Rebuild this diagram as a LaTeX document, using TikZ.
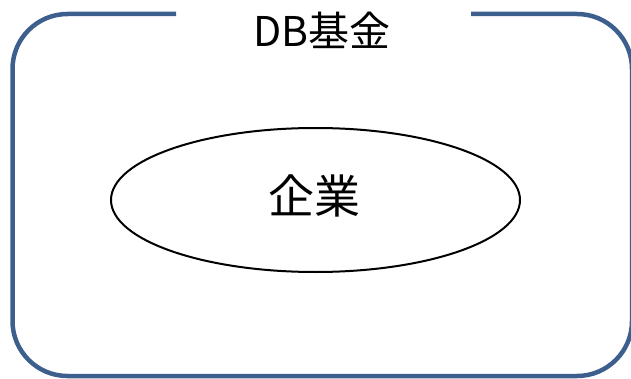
\documentclass[tikz,border=0pt]{standalone}
\usepackage{fontspec}
\usetikzlibrary{shapes.geometric}
\newfontfamily\cjk{Noto Sans CJK JP}
\definecolor{frame}{HTML}{3C5F8E}
\begin{document}
\begin{tikzpicture}[x=1pt,y=1pt,
  framestyle/.style={draw=frame,line width=4.5pt,line cap=butt},
  ell/.style={draw=black,line width=2pt,ellipse,inner sep=0pt}]
\useasboundingbox (0,0) rectangle (631,378);
\clip (0,0) rectangle (631,378);
\draw[framestyle] (176,364) -- (67.5,364) arc[start angle=90,end angle=180,radius=55] -- (12.5,57) arc[start angle=180,end angle=270,radius=55] -- (577,2) arc[start angle=270,end angle=360,radius=55] -- (632,309) arc[start angle=0,end angle=90,radius=55] -- (471,364);
\node[ell,minimum width=409pt,minimum height=144pt] (corp) at (315.5,178) {};
\node[font=\cjk\fontsize{46}{46}\selectfont,inner sep=0pt] (corplabel) at (314,182) {企業};
\node[font=\cjk\fontsize{41}{41}\selectfont,inner sep=0pt] (fund) at (322,348) {DB基金};
\end{tikzpicture}
\end{document}
